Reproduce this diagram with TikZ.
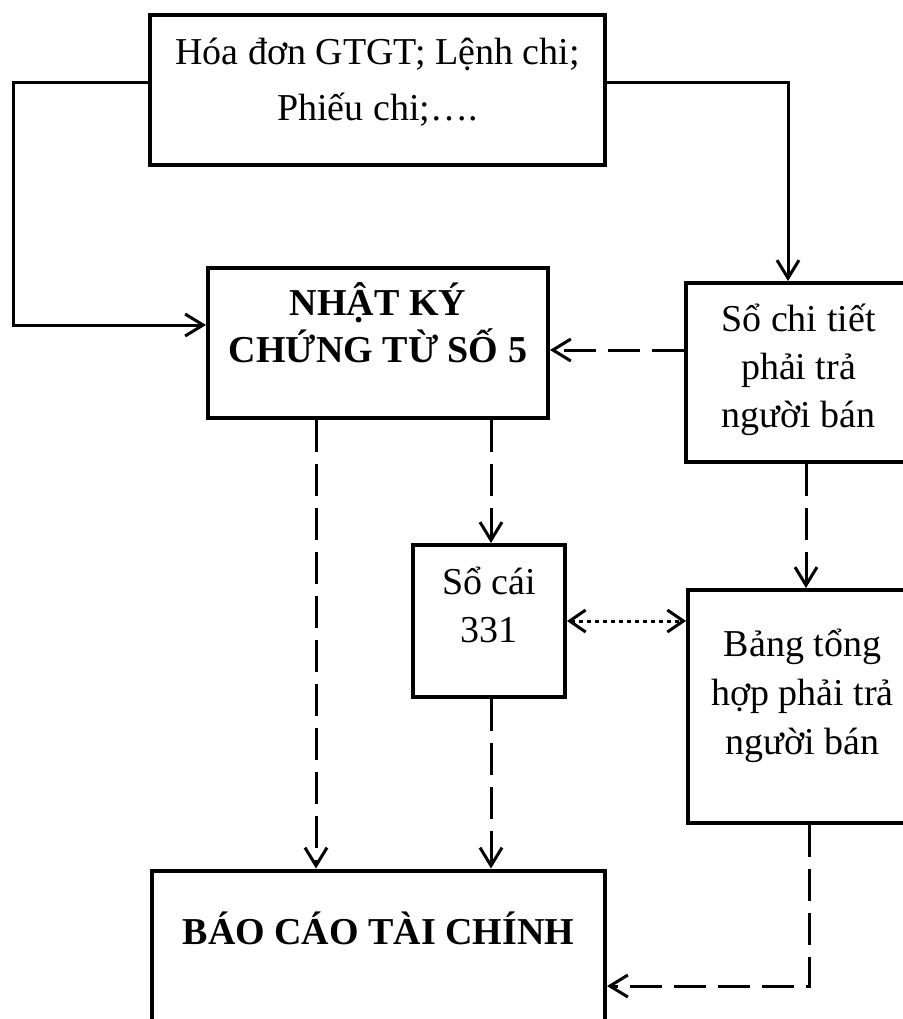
\documentclass[tikz,border=0pt]{standalone}
\usepackage{fontspec}
\setmainfont{Liberation Serif}
\usetikzlibrary{arrows.meta}

\begin{document}
\begin{tikzpicture}[
    x=0.5pt, y=-0.5pt,
    box/.style={rectangle, draw, line width=2pt, inner sep=0pt},
    txt/.style={align=center, inner sep=0pt, font=\fontsize{19pt}{24pt}\selectfont},
    boldtxt/.style={txt, font=\fontsize{19pt}{23.5pt}\selectfont\bfseries},
    link/.style={line width=1.5pt, -{Straight Barb[length=9pt, width=11pt]}},
    dashlink/.style={link, dash pattern=on 16pt off 6pt},
    dotlink/.style={line width=1.5pt, {Straight Barb[length=8pt, width=11pt]}-{Straight Barb[length=8pt, width=11pt]},
                    dash pattern=on 2pt off 2pt}
  ]
    \useasboundingbox (0,0) rectangle (903,1019);
    \clip (0,0) rectangle (903,1019);

    \node[box, minimum width=227.5pt, minimum height=75pt]  (src)    at (377.5, 90)    {};
    \node[box, minimum width=170pt,   minimum height=75pt]  (nkct)   at (378, 343)     {};
    \node[box, minimum width=112.5pt, minimum height=89.5pt] (soct)  at (798.5, 372.5) {};
    \node[box, minimum width=76pt,    minimum height=76pt]  (socai)  at (489, 621)     {};
    \node[box, minimum width=114.5pt, minimum height=116.5pt] (bangth) at (802.5, 706.5) {};
    \node[box, minimum width=226.5pt, minimum height=100pt] (bctc)   at (378.5, 970.5) {};

    \node[txt, font=\fontsize{19pt}{28pt}\selectfont] (src-t) at (377.5, 82) {Hóa đơn GTGT; Lệnh chi;\\Phiếu chi;….};
    \node[boldtxt] (nkct-t)   at (378, 323)   {NHẬT KÝ\\CHỨNG TỪ SỐ 5};
    \node[txt]     (soct-t)   at (798.5, 370) {Sổ chi tiết\\phải trả\\người bán};
    \node[txt]     (socai-t)  at (489, 605)   {Sổ cái\\331};
    \node[txt, font=\fontsize{19pt}{24.5pt}\selectfont] (bangth-t) at (802.5, 696) {Bảng tổng\\hợp phải trả\\người bán};
    \node[boldtxt] (bctc-t)   at (378.5, 928) {BÁO CÁO TÀI CHÍNH};

    \coordinate (lbend1) at (13, 82);
    \coordinate (lbend2) at (13, 325);
    \coordinate (rbend)  at (788, 82);
    \coordinate (bbend)  at (809, 986);

    \draw[link] (src.west |- lbend1) -- (lbend1) -- (lbend2) -- (nkct.west |- lbend2);
    \draw[link] (src.east |- rbend) -- (rbend) -- (rbend |- soct.north);
    \draw[dashlink] (soct.west |- 0,350) -- (nkct.east |- 0,350);
    \draw[dashlink] (nkct.south -| 316,0) -- (bctc.north -| 316,0);
    \draw[dashlink] (nkct.south -| 491,0) -- (socai.north -| 491,0);
    \draw[dashlink] (socai.south -| 491,0) -- (bctc.north -| 491,0);
    \draw[dotlink] (socai.east) -- (bangth.west |- socai.east);
    \draw[dashlink] (soct.south -| 806,0) -- (bangth.north -| 806,0);
    \draw[dashlink] (bangth.south -| bbend) -- (bbend) -- (bctc.east |- bbend);
  \end{tikzpicture}
\end{document}
